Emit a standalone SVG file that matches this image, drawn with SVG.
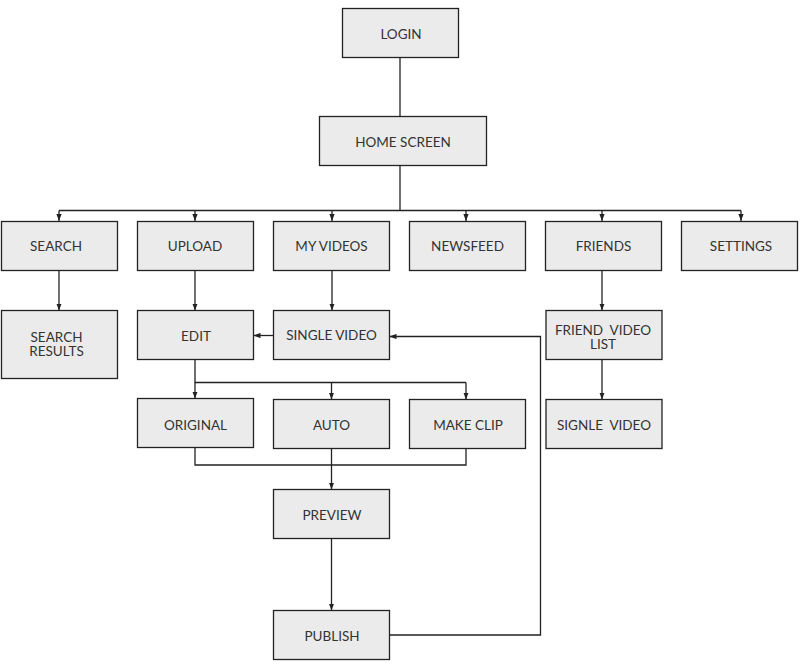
<svg xmlns="http://www.w3.org/2000/svg" width="800" height="670" viewBox="0 0 800 670">
<defs>
<style>
.n rect{fill:#ebebeb;stroke:#222;stroke-width:1.3}
.n text{font-family:Lato,"Liberation Sans",sans-serif;font-size:13.5px;fill:#333;text-anchor:middle}
.c path{fill:none;stroke:#222;stroke-width:1.3}
</style>
<marker id="ah" viewBox="0 0 8 6" refX="8" refY="3" markerWidth="7" markerHeight="5.5" markerUnits="userSpaceOnUse" orient="auto">
<path d="M0,0 L8,3 L0,6 z" fill="#222"/>
</marker>
</defs>
<rect width="800" height="670" fill="#fff"/>
<g class="c">
<path d="M400,57.5 V116.5"/>
<path d="M400,165.5 V210.5"/>
<path d="M59,210.5 H741"/>
<path d="M59,210.5 V221" marker-end="url(#ah)"/>
<path d="M195,210.5 V221" marker-end="url(#ah)"/>
<path d="M332,210.5 V221" marker-end="url(#ah)"/>
<path d="M466,210.5 V221" marker-end="url(#ah)"/>
<path d="M602,210.5 V221" marker-end="url(#ah)"/>
<path d="M741,210.5 V221" marker-end="url(#ah)"/>
<path d="M59,270.5 V310.5" marker-end="url(#ah)"/>
<path d="M195,270.5 V310.5" marker-end="url(#ah)"/>
<path d="M332,270.5 V310.5" marker-end="url(#ah)"/>
<path d="M273.5,335.5 H253.5" marker-end="url(#ah)"/>
<path d="M602,270.5 V310.5" marker-end="url(#ah)"/>
<path d="M602,359.5 V399.5" marker-end="url(#ah)"/>
<path d="M195,359.5 V382.5 H466"/>
<path d="M195,382.5 V398.5" marker-end="url(#ah)"/>
<path d="M331.5,382.5 V399.5" marker-end="url(#ah)"/>
<path d="M466,382.5 V399.5" marker-end="url(#ah)"/>
<path d="M195,447.5 V465 H466 V448.5"/>
<path d="M331.5,448.5 V489.5" marker-end="url(#ah)"/>
<path d="M331.5,538.5 V610.5" marker-end="url(#ah)"/>
<path d="M389.5,635 H540.5 V336.5 H389.5" marker-end="url(#ah)"/>
</g>
<g id="login" class="n"><rect x="342.5" y="8.5" width="116" height="49"/><text x="401" y="38.5">LOGIN</text></g>
<g id="home" class="n"><rect x="319.5" y="116.5" width="167" height="49"/><text x="403" y="147">HOME SCREEN</text></g>
<g id="search" class="n"><rect x="1.5" y="221.5" width="116" height="49"/><text x="56" y="251">SEARCH</text></g>
<g id="upload" class="n"><rect x="137.5" y="221.5" width="116" height="49"/><text x="195" y="251">UPLOAD</text></g>
<g id="myvideos" class="n"><rect x="273.5" y="221.5" width="116" height="49"/><text x="331.5" y="251">MY VIDEOS</text></g>
<g id="newsfeed" class="n"><rect x="409.5" y="221.5" width="116" height="49"/><text x="467.5" y="251">NEWSFEED</text></g>
<g id="friends" class="n"><rect x="545.5" y="221.5" width="116" height="49"/><text x="603.5" y="251">FRIENDS</text></g>
<g id="settings" class="n"><rect x="681.5" y="221.5" width="116" height="49"/><text x="741" y="251">SETTINGS</text></g>
<g id="searchresults" class="n"><rect x="1.5" y="310.5" width="116" height="68"/><text x="56.5" y="342.3">SEARCH</text><text x="56.5" y="356.3">RESULTS</text></g>
<g id="edit" class="n"><rect x="137.5" y="310.5" width="116" height="49"/><text x="196" y="341">EDIT</text></g>
<g id="singlevideo" class="n"><rect x="273.5" y="310.5" width="116" height="49"/><text x="331.5" y="340">SINGLE VIDEO</text></g>
<g id="friendvideolist" class="n"><rect x="546" y="310.5" width="116" height="49"/><text x="603" y="334.5" xml:space="preserve">FRIEND  VIDEO</text><text x="603" y="348.5">LIST</text></g>
<g id="original" class="n"><rect x="137.5" y="398.5" width="116" height="49"/><text x="195.5" y="430">ORIGINAL</text></g>
<g id="auto" class="n"><rect x="273.5" y="399.5" width="116" height="49"/><text x="331.5" y="430">AUTO</text></g>
<g id="makeclip" class="n"><rect x="409.5" y="399.5" width="116" height="49"/><text x="468" y="430">MAKE CLIP</text></g>
<g id="signlevideo" class="n"><rect x="546" y="399.5" width="116" height="49"/><text x="604" y="430" xml:space="preserve">SIGNLE  VIDEO</text></g>
<g id="preview" class="n"><rect x="273.5" y="489.5" width="116" height="49"/><text x="332" y="520">PREVIEW</text></g>
<g id="publish" class="n"><rect x="273.5" y="610.5" width="116" height="49"/><text x="332" y="640.5">PUBLISH</text></g>
</svg>
